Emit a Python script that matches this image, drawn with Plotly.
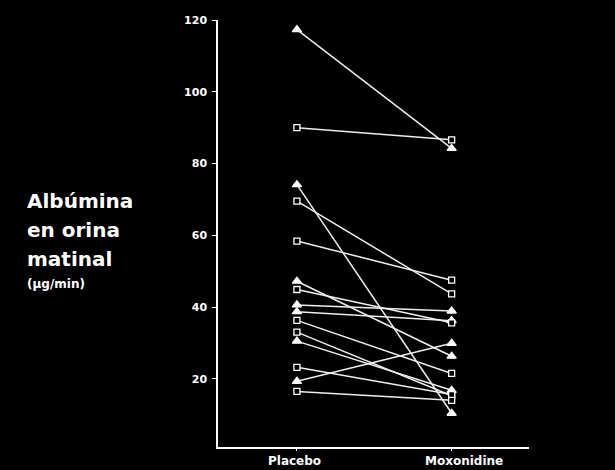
import plotly.graph_objects as go

groups = ["Placebo", "Moxonidine"]
placebo = [117.3, 90.0, 74.1, 69.5, 58.4, 47.2, 44.9, 40.6, 38.7, 36.3, 33.0, 30.5, 23.2, 19.3, 16.5]
moxonidine = [84.2, 86.6, 10.4, 43.7, 47.5, 26.3, 35.6, 38.9, 36.2, 21.5, 15.3, 16.8, 15.6, 29.9, 14.0]
symbols = ["T", "S", "T", "S", "S", "T", "S", "T", "T", "S", "S", "T", "S", "T", "S"]
y_ticks = [20, 40, 60, 80, 100, 120]
title_lines = ["Albúmina", "en orina", "matinal"]
unit_label = "(µg/min)"

W, H = 615, 470
L, R, T, B = 218, 86, 20, 23
pw, ph = W - L - R, H - T - B

def px_to_paper_x(px):
    return (px - L) / pw

def px_to_paper_y(py):
    return (H - B - py) / ph

fig = go.Figure()

# connecting lines
lx, ly = [], []
for p, m in zip(placebo, moxonidine):
    lx += [0, 1, None]
    ly += [p, m, None]
fig.add_trace(go.Scatter(x=lx, y=ly, mode="lines",
                         line=dict(color="#eeeeee", width=1.5),
                         hoverinfo="skip", showlegend=False))

for sym, msym, msize, fillc in [("T", "triangle-up", 8, "white"), ("S", "square", 6, "black")]:
    xs, ys = [], []
    for p, m, s in zip(placebo, moxonidine, symbols):
        if s == sym:
            xs += [0, 1]
            ys += [p, m]
    fig.add_trace(go.Scatter(x=xs, y=ys, mode="markers",
                             marker=dict(symbol=msym, size=msize, color=fillc,
                                         line=dict(color="white", width=1.3)),
                             showlegend=False))

fig.update_layout(
    width=W, height=H,
    margin=dict(l=L, r=R, t=T, b=B),
    paper_bgcolor="black", plot_bgcolor="black",
    font=dict(family="DejaVu Sans", color="white"),
    xaxis=dict(range=[-0.51, 1.5], showgrid=False, zeroline=False,
               showline=True, linecolor="white", linewidth=1.5,
               tickvals=[0, 1], ticktext=["", ""], ticks="outside",
               ticklen=2, tickcolor="white", tickwidth=1),
    yaxis=dict(range=[1, 120], showgrid=False, zeroline=False,
               showline=True, linecolor="white", linewidth=1.5,
               tickvals=y_ticks, ticks="outside", ticklen=4,
               tickcolor="white", tickwidth=1, ticklabelstandoff=3,
               tickfont=dict(family="DejaVu Sans", size=11, color="white", weight="bold")),
)

# category labels
label_px = [294.5, 463.7]
for g, xpx in zip(groups, label_px):
    fig.add_annotation(x=px_to_paper_x(xpx), y=px_to_paper_y(461.5), xref="paper", yref="paper",
                       text="<b>%s</b>" % g, showarrow=False, xanchor="center", yanchor="middle",
                       font=dict(family="DejaVu Sans", size=12, color="white"))

# left title
for txt, ypx in zip(title_lines, [201, 230, 259]):
    fig.add_annotation(x=px_to_paper_x(25), y=px_to_paper_y(ypx), xref="paper", yref="paper",
                       text="<b>%s</b>" % txt, showarrow=False, xanchor="left", yanchor="middle",
                       font=dict(family="DejaVu Sans", size=20, color="white"))
fig.add_annotation(x=px_to_paper_x(25), y=px_to_paper_y(284), xref="paper", yref="paper",
                   text="<b>%s</b>" % unit_label, showarrow=False, xanchor="left", yanchor="middle",
                   font=dict(family="DejaVu Sans", size=12, color="white"))

fig.write_html("out.html")
